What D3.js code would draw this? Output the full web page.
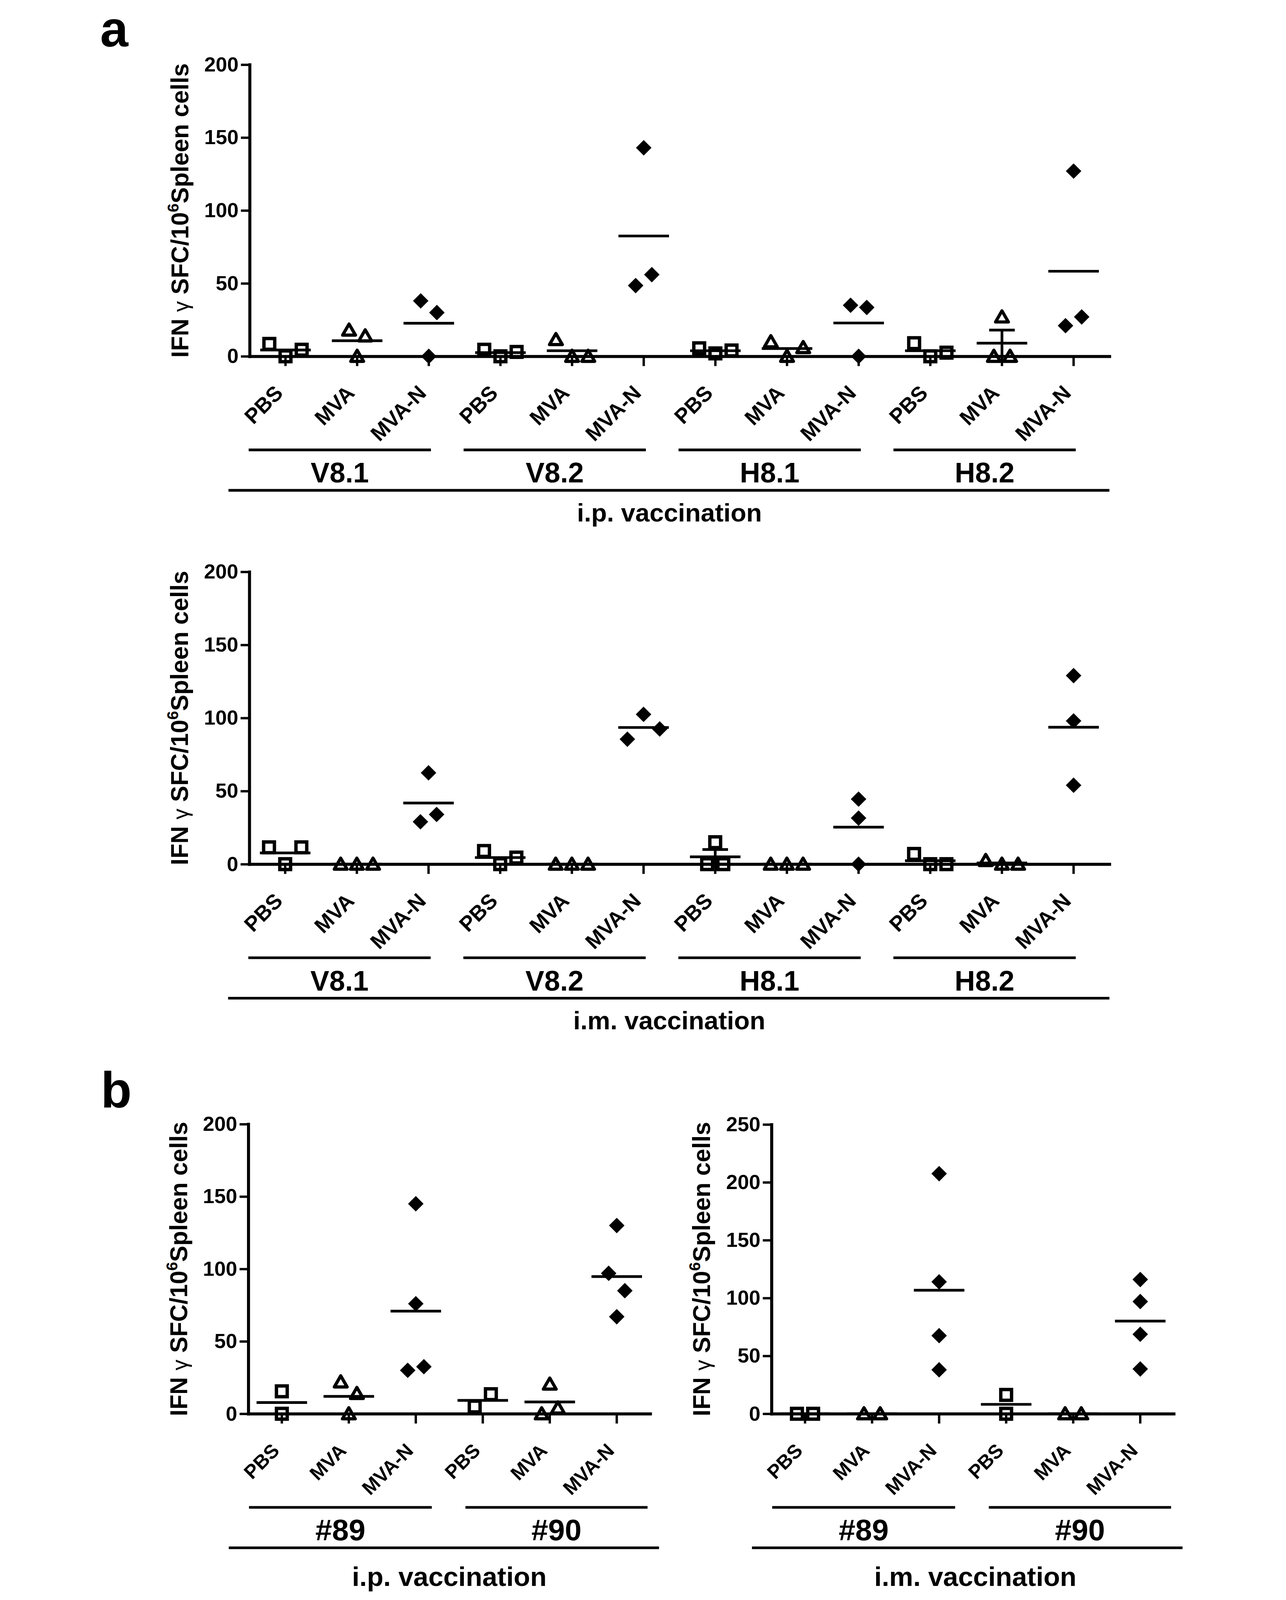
<!DOCTYPE html>
<html>
<head>
<meta charset="utf-8">
<script src="https://cdn.jsdelivr.net/npm/d3@7"></script>
<style>
  html, body { margin: 0; padding: 0; background: #fff; width: 100%; height: 100%; overflow: hidden; }
  svg { display: block; width: 100vw; height: 100vh; }
  text { font-family: "Liberation Sans", Arial, sans-serif; font-weight: bold; fill: #000; }
</style>
</head>
<body>
<svg id="fig" viewBox="0 0 3291 4751" preserveAspectRatio="xMidYMid meet"></svg>
<script>
// ---- data ----
const treatments = ["PBS", "MVA", "MVA-N"];
const groupsA = ["V8.1", "V8.2", "H8.1", "H8.2"];
const groupsB = ["#89", "#90"];
const ticks200 = [0, 50, 100, 150, 200];
const ticks250 = [0, 50, 100, 150, 200, 250];

// one array per category, in order group x treatment
const ipA = [
  [8.5, 0, 4.5], [18, 0, 14], [38, 0, 30],
  [4.5, 0, 3], [11.5, 0, 0], [143, 48.5, 56],
  [5.5, 2, 4], [10, 0, 6], [35, 0, 33.5],
  [9, 0, 2.5], [27, 0, 0], [127, 21, 27]
];
const imA = [
  [11.5, 0, 11.5], [0, 0, 0], [62.5, 29, 34],
  [9, 0, 4.5], [0, 0, 0], [85.5, 102.5, 92.5],
  [0, 15, 0], [0, 0, 0], [44.5, 31.5, 0],
  [7, 0, 0], [2.5, 0, 0], [129, 98, 54]
];
const ipB = [
  [15.5, 0], [22, 0, 14], [145, 76, 30, 32.5],
  [5, 13.5], [20.5, 0, 4], [130, 97, 85, 67]
];
const imB = [
  [0, 0], [0, 0], [207.5, 114, 67.5, 38],
  [16.3, 0], [0, 0], [116, 97, 68.7, 38.7]
];
// categories that show a mean +/- SEM bar in the figure
const semIpA = ["H8.2 MVA"];
const semImA = ["H8.1 PBS"];

// ---- layout ----
const OVERLAP = 53;   // px: closer than this and markers are set side by side
const SPREAD = 48;    // px between side-by-side markers
const AXIS_W = 9, TICK_W = 7, LINE_W = 8;

const panels = [
  { values: ipA, groups: groupsA, ticks: ticks200, sem: semIpA, title: "i.p. vaccination",
    x0: 478, x1: 3030, yTop: 192, yBot: 1058,
    inset: [[-3, 100], [-3, 100], [-3, 100], [-3, 100]], labelFont: 63,
    groupFont: 84, titleFont: 76, titleDy: 490, titleDx: -30, baseL: -63, baseR: 0 },
  { values: imA, groups: groupsA, ticks: ticks200, sem: semImA, title: "i.m. vaccination",
    x0: 477, x1: 3030, yTop: 1698, yBot: 2566,
    inset: [[-3, 100], [-3, 100], [-3, 100], [-3, 100]], labelFont: 63,
    groupFont: 84, titleFont: 76, titleDy: 490, titleDx: -30, baseL: -63, baseR: 0 },
  { values: ipB, groups: groupsB, ticks: ticks200, sem: [], title: "i.p. vaccination",
    x0: 474, x1: 1667, yTop: 3338, yBot: 4198,
    inset: [[2, 52], [48, 8]], labelFont: 58,
    groupFont: 89, titleFont: 80, titleDy: 511, titleDx: 0, baseL: -58, baseR: 26 },
  { values: imB, groups: groupsB, ticks: ticks250, sem: [], title: "i.m. vaccination",
    x0: 2027, x1: 3221, yTop: 3339, yBot: 4198,
    inset: [[2, 52], [48, 8]], labelFont: 58,
    groupFont: 89, titleFont: 80, titleDy: 511, titleDx: 8, baseL: -58, baseR: 26 }
];

const svg = d3.select("#fig");
svg.append("rect").attr("width", 3291).attr("height", 4751).attr("fill", "#fff");

svg.append("text").attr("x", 34).attr("y", 138).attr("font-size", 150).text("a");
svg.append("text").attr("x", 36).attr("y", 3288).attr("font-size", 150).text("b");

// markers: hollow square, hollow triangle, filled diamond
function drawMarker(sel, t) {
  if (t === 0) {
    sel.append("rect").attr("x", -16).attr("y", -16).attr("width", 32).attr("height", 32)
      .attr("fill", "none").attr("stroke", "#000").attr("stroke-width", 10);
  } else if (t === 1) {
    sel.append("path").attr("d", "M0,-18L19,15L-19,15Z")
      .attr("fill", "none").attr("stroke", "#000").attr("stroke-width", 9.5)
      .attr("stroke-linejoin", "round");
  } else {
    sel.append("path").attr("d", "M0,-23L23,0L0,23L-23,0Z").attr("fill", "#000");
  }
}

// horizontal offsets so that overlapping points sit next to each other
function spreadOffsets(vals, y) {
  const order = d3.range(vals.length).sort((a, b) => d3.ascending(vals[a], vals[b]) || a - b);
  const off = new Array(vals.length).fill(0);
  let cluster = [order[0]];
  const flush = () => {
    cluster.sort(d3.ascending);
    cluster.forEach((i, k) => { off[i] = (k - (cluster.length - 1) / 2) * SPREAD; });
  };
  for (let j = 1; j < order.length; j++) {
    if (Math.abs(y(vals[order[j]]) - y(vals[order[j - 1]])) < OVERLAP) cluster.push(order[j]);
    else { flush(); cluster = [order[j]]; }
  }
  flush();
  return off;
}

panels.forEach(p => {
  const g = svg.append("g");
  const keys = [];
  p.groups.forEach(gr => treatments.forEach(t => keys.push(gr + " " + t)));

  const x = d3.scaleBand().domain(keys).range([p.x0, p.x1]);
  const y = d3.scaleLinear().domain([0, d3.max(p.ticks)]).range([p.yBot, p.yTop]);
  const cx = k => x(k) + x.bandwidth() / 2;

  // y axis
  const ya = g.append("g").attr("transform", `translate(${p.x0},0)`)
    .call(d3.axisLeft(y).tickValues(p.ticks).tickSize(26).tickSizeOuter(0).tickPadding(7));
  ya.attr("font-size", null).attr("font-family", null);
  ya.select(".domain").attr("stroke-width", AXIS_W).attr("stroke-linecap", "square");
  ya.selectAll(".tick line").attr("stroke-width", TICK_W);
  ya.selectAll(".tick text").attr("font-size", 61);

  // x axis
  const xa = g.append("g").attr("transform", `translate(0,${p.yBot})`)
    .call(d3.axisBottom(x).tickSize(29).tickSizeOuter(0).tickFormat(k => k.split(" ")[1]));
  xa.attr("font-size", null).attr("font-family", null);
  xa.select(".domain").attr("stroke-width", AXIS_W).attr("stroke-linecap", "square");
  xa.selectAll(".tick line").attr("stroke-width", TICK_W);
  xa.selectAll(".tick text")
    .attr("x", 0).attr("y", 0).attr("dy", 0)
    .attr("transform", "translate(-4,113) rotate(-45)")
    .attr("text-anchor", "end").attr("font-size", p.labelFont);

  // y axis title
  const yt = g.append("text")
    .attr("transform", `translate(${p.x0 - 182},${(p.yTop + p.yBot) / 2}) rotate(-90)`)
    .attr("text-anchor", "middle").attr("font-size", 72);
  yt.append("tspan").text("IFN ");
  yt.append("tspan").attr("font-weight", "normal").attr("font-size", 64).text("\u03b3");
  yt.append("tspan").text(" SFC/10");
  yt.append("tspan").attr("font-size", 47).attr("dy", -29).text("6");
  yt.append("tspan").attr("dy", 29).text("Spleen cells");

  // mean lines, SEM bars, points
  keys.forEach((k, i) => {
    const vals = p.values[i];
    const m = d3.mean(vals);
    const c = cx(k);
    g.append("line").attr("x1", c - 75).attr("x2", c + 75)
      .attr("y1", y(m)).attr("y2", y(m))
      .attr("stroke", "#000").attr("stroke-width", LINE_W);
    if (p.sem.includes(k)) {
      const s = d3.deviation(vals) / Math.sqrt(vals.length);
      g.append("line").attr("x1", c).attr("x2", c)
        .attr("y1", y(Math.max(0, m - s))).attr("y2", y(m + s))
        .attr("stroke", "#000").attr("stroke-width", LINE_W);
      [m - s, m + s].forEach(v => g.append("line")
        .attr("x1", c - 38).attr("x2", c + 38).attr("y1", y(v)).attr("y2", y(v))
        .attr("stroke", "#000").attr("stroke-width", LINE_W));
    }
    const off = spreadOffsets(vals, y);
    const t = i % treatments.length;
    vals.forEach((v, j) => {
      const mk = g.append("g").attr("transform", `translate(${c + off[j]},${y(v)})`);
      drawMarker(mk, t);
    });
  });

  // group lines and labels
  const span = 3 * x.bandwidth();
  p.groups.forEach((gr, gi) => {
    const s = p.x0 + gi * span + p.inset[gi][0];
    const e = p.x0 + (gi + 1) * span - p.inset[gi][1];
    g.append("line").attr("x1", s).attr("x2", e)
      .attr("y1", p.yBot + 278).attr("y2", p.yBot + 278)
      .attr("stroke", "#000").attr("stroke-width", LINE_W);
    g.append("text").attr("x", (s + e) / 2).attr("y", p.yBot + 375)
      .attr("text-anchor", "middle").attr("font-size", p.groupFont).text(gr);
  });

  // route of vaccination
  g.append("line").attr("x1", p.x0 + p.baseL).attr("x2", p.x1 + p.baseR)
    .attr("y1", p.yBot + 398).attr("y2", p.yBot + 398)
    .attr("stroke", "#000").attr("stroke-width", LINE_W);
  g.append("text").attr("x", (p.x0 + p.x1) / 2 + p.titleDx).attr("y", p.yBot + p.titleDy)
    .attr("text-anchor", "middle").attr("font-size", p.titleFont).text(p.title);
});
</script>
</body>
</html>
